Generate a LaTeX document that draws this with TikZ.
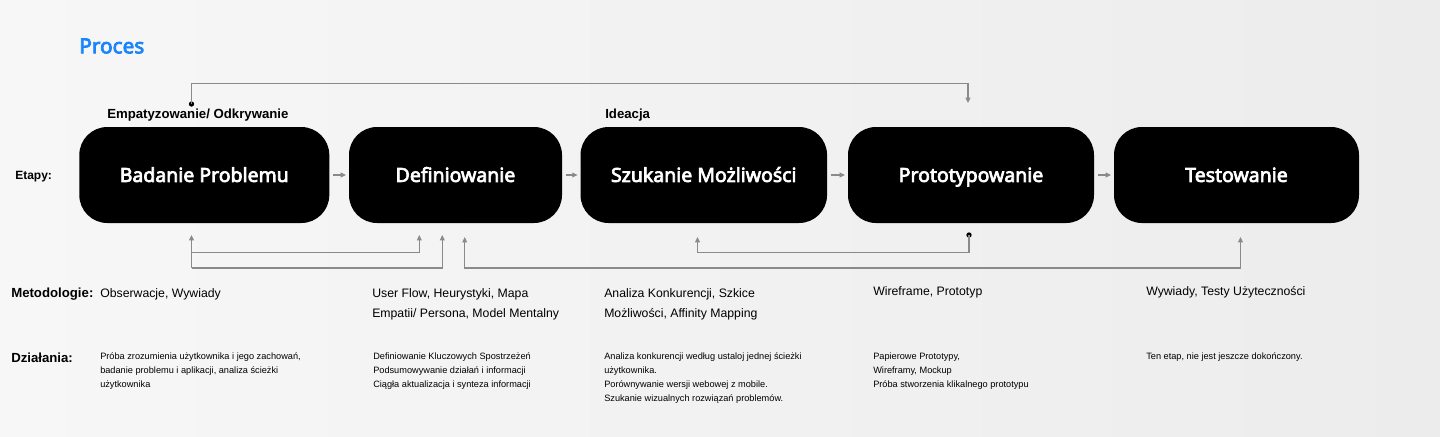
\documentclass[tikz,border=0pt]{standalone}
\usepackage{fontspec}
\setmainfont{Liberation Sans}
\newfontfamily\boxfont{Noto Sans}[FakeBold=3.5]
\usetikzlibrary{arrows.meta}
\definecolor{procblue}{HTML}{1A84FB}
\definecolor{conn}{HTML}{8A8A8A}
\definecolor{bgl}{HTML}{F7F7F7}
\definecolor{bgr}{HTML}{ECECEC}
\begin{document}
\begin{tikzpicture}[x=0.75pt,y=-0.75pt,
  stagebox/.style={fill=black, rounded corners=21pt, minimum height=72pt, inner sep=0pt,
     text=white, text height=10.4pt, text depth=0pt, font=\boxfont\fontsize{14.6}{16}\selectfont},
  lbl/.style={anchor=base west, inner sep=0pt, font=\bfseries\fontsize{9.9}{12}\selectfont},
  reg/.style={anchor=base west, inner sep=0pt, align=left, font=\fontsize{9.2}{15}\selectfont},
  small/.style={anchor=base west, inner sep=0pt, align=left, font=\fontsize{6.9}{10.5}\selectfont},
  conn/.style={draw=conn, line width=0.8pt},
  tip/.style={-{Triangle[width=3.6pt,length=4pt]}},
  dot/.style={circle, fill=black, inner sep=0pt, minimum size=4pt}
]
\shade[left color=bgl, right color=bgr] (0,0) rectangle (1440,436);
\useasboundingbox (0,0) rectangle (1440,436);

% title and stage labels
\node[anchor=west, inner sep=0pt, text=procblue, font=\boxfont\fontsize{15.6}{18}\selectfont] (title) at (79,46) {Proces};
\node[lbl] (emp) at (107,118.5) {Empatyzowanie/ Odkrywanie};
\node[lbl] (ide) at (605,118.5) {Ideacja};
\node[lbl, font=\bfseries\fontsize{9}{11}\selectfont] (etapy) at (15,179) {Etapy:};

% stages
\node[stagebox, minimum width=187.5pt] (s1) at (204.3,175) {Badanie Problemu};
\node[stagebox, minimum width=159.75pt] (s2) at (455.5,175) {Definiowanie};
\node[stagebox, minimum width=184.9pt] (s3) at (703.8,175) {Szukanie Możliwości};
\node[stagebox, minimum width=184.5pt] (s4) at (971,175) {Prototypowanie};
\node[stagebox, minimum width=183.75pt] (s5) at (1236.5,175) {Testowanie};

\foreach \a/\b in {s1/s2,s2/s3,s3/s4,s4/s5}
  \draw[conn, tip, shorten <=2.5pt, shorten >=2pt] (\a.east) -- (\b.west);

% top connector
\node[dot] (d1) at (191.5,104) {};
\coordinate (t1) at (968,103);
\draw[conn, tip] (d1.center) -- (191.5,83.3) -| (t1);

% bottom connectors
\coordinate (b1) at (191.5,235);
\coordinate (b2) at (419.3,235);
\coordinate (b3) at (442.3,235);
\coordinate (b4) at (464.7,237);
\coordinate (b5) at (1240.5,237);
\coordinate (b6) at (697.5,237);
\node[dot] (d2) at (969,235) {};
\draw[conn, tip] (191.5,268) -- (b1);
\draw[conn, tip] (191.5,252.7) -| (b2);
\draw[conn, tip] (191.5,268) -| (b3);
\draw[conn, tip] (695,268) -| (b4);
\draw[conn, tip] (695,268) -| (b5);
\draw[conn, tip] (d2.center) |- (697.5,252.3) -- (b6);

% Metodologie (base anchor = last line baseline)
\node[lbl] (met) at (11,297.5) {Metodologie:};
\node[reg] (m1) at (100,297.5) {Obserwacje, Wywiady};
\node[reg] (m2) at (372,317.5) {User Flow, Heurystyki, Mapa\\Empatii/ Persona, Model Mentalny};
\node[reg] (m3) at (604,317.5) {Analiza Konkurencji, Szkice\\Możliwości, Affinity Mapping};
\node[reg] (m4) at (873,295.5) {Wireframe, Prototyp};
\node[reg] (m5) at (1146,295.5) {Wywiady, Testy Użyteczności};

% Dzialania
\node[lbl] (dz) at (11,362.5) {Działania:};
\node[small] (a1) at (100,387) {Próba zrozumienia użytkownika i jego zachowań,\\badanie problemu i aplikacji, analiza ścieżki\\użytkownika};
\node[small] (a2) at (373,387) {Definiowanie Kluczowych Spostrzeżeń\\Podsumowywanie działań i informacji\\Ciągła aktualizacja i synteza informacji};
\node[small] (a3) at (604,401) {Analiza konkurencji według ustaloj jednej ścieżki\\użytkownika.\\Porównywanie wersji webowej z mobile.\\Szukanie wizualnych rozwiązań problemów.};
\node[small] (a4) at (873,387) {Papierowe Prototypy,\\Wireframy, Mockup\\Próba stworzenia klikalnego prototypu};
\node[small] (a5) at (1146,359) {Ten etap, nie jest jeszcze dokończony.};
\end{tikzpicture}
\end{document}
